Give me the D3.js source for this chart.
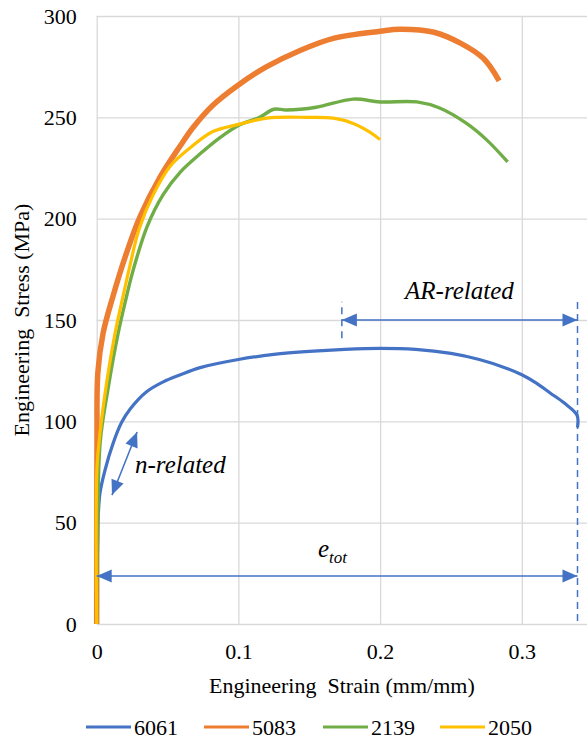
<!DOCTYPE html>
<html>
<head>
<meta charset="utf-8">
<script src="https://cdn.jsdelivr.net/npm/d3@7"></script>
<style>
  body { margin: 0; background: #fff; }
  svg { display: block; }
  text { fill: #000; }
  .tick text { font-size: 22px; }
</style>
</head>
<body>
<svg id="chart" width="587" height="740" font-family="Liberation Serif, DejaVu Serif, Times New Roman, serif"></svg>
<script>
// series: [strain, stress]
const s6061 = [
  [0, 0], [0.0003, 25], [0.0008, 45], [0.0011, 53], [0.0023, 64.5], [0.0059, 76], [0.0115, 89],
  [0.0176, 99.5], [0.0235, 106], [0.035, 114.5], [0.047, 119.5], [0.059, 123], [0.073, 126.5],
  [0.1, 130.5], [0.125, 133], [0.15, 134.5], [0.175, 135.5], [0.2, 136], [0.225, 135.5],
  [0.25, 133.5], [0.27, 130.5], [0.29, 126], [0.3, 123], [0.31, 119], [0.32, 114],
  [0.33, 109], [0.339, 103], [0.3393, 97]
];
const s5083 = [
  [0, 0], [0.0002, 90], [0.0008, 124], [0.0045, 143.5], [0.0116, 162], [0.021, 183],
  [0.0306, 201], [0.0447, 220.5], [0.059, 236], [0.068, 245], [0.082, 256], [0.1, 266],
  [0.12, 275], [0.1435, 283], [0.167, 289], [0.2, 292.5], [0.214, 293.5], [0.238, 292],
  [0.257, 286.5], [0.273, 279], [0.284, 268]
];
const s2139 = [
  [0, 0], [0.0005, 40], [0.0025, 90], [0.008, 116], [0.015, 143], [0.0205, 160],
  [0.0255, 174], [0.0355, 196], [0.047, 212], [0.059, 223], [0.073, 232], [0.087, 240],
  [0.1, 246], [0.115, 250], [0.125, 254], [0.134, 253.6], [0.155, 255], [0.181, 259],
  [0.2, 257.6], [0.226, 257.6], [0.242, 254.6], [0.261, 247], [0.275, 239], [0.29, 228]
];
const s2050 = [
  [0, 0], [0.0002, 77], [0.0023, 94], [0.007, 119], [0.013, 143.6], [0.019, 163],
  [0.0235, 177], [0.03, 195], [0.04, 212], [0.052, 226], [0.066, 235], [0.082, 243],
  [0.1, 246.5], [0.12, 249.6], [0.148, 250], [0.167, 249.6], [0.181, 247], [0.193, 242.6],
  [0.2, 239]
];
const seriesNames = ["6061", "5083", "2139", "2050"];
const seriesColors = ["#4472C4", "#ED7D31", "#70AD47", "#FFC000"];
const xTicks = [0, 0.1, 0.2, 0.3];
const yTicks = [0, 50, 100, 150, 200, 250, 300];

const svg = d3.select("#chart");
const m = { left: 96.7, right: 587, top: 16, bottom: 624 };
const x = d3.scaleLinear().domain([0, 0.346]).range([m.left, m.right]);
const y = d3.scaleLinear().domain([0, 300]).range([m.bottom, m.top]);

// axes + grid
svg.append("g").attr("transform", `translate(${m.left},0)`)
  .call(d3.axisLeft(y).tickValues(yTicks).tickSize(-(m.right - m.left)).tickPadding(20))
  .attr("font-family", null).attr("font-size", null);
svg.append("g").attr("transform", `translate(0,${m.bottom})`)
  .call(d3.axisBottom(x).tickValues(xTicks).tickSize(-(m.bottom - m.top)).tickPadding(19)
    .tickFormat((d) => (d === 0 ? "0" : d3.format(".1f")(d))))
  .attr("font-family", null).attr("font-size", null);
svg.selectAll(".domain").remove();
svg.selectAll(".tick line").attr("stroke", "#d9d9d9").attr("stroke-width", 1.3);

// series
const line = d3.line().x((d) => x(d[0])).y((d) => y(d[1])).curve(d3.curveCatmullRom.alpha(0.5));
const allSeries = [s6061, s5083, s2139, s2050];
const widths = [3.2, 5.5, 3.4, 3.2];
svg.append("g").selectAll("path").data(allSeries).join("path")
  .attr("d", line)
  .attr("fill", "none")
  .attr("stroke", (d, i) => seriesColors[i])
  .attr("stroke-width", (d, i) => widths[i])
  .attr("stroke-linejoin", "round");

// annotations
const blue = "#4472C4";
const ann = svg.append("g");
function arrow(x1, y1, x2, y2) {
  ann.append("line").attr("x1", x1).attr("y1", y1).attr("x2", x2).attr("y2", y2)
    .attr("stroke", blue).attr("stroke-width", 1.5);
  for (const [tx, ty, fx, fy] of [[x1, y1, x2, y2], [x2, y2, x1, y1]]) {
    const a = Math.atan2(ty - fy, tx - fx), len = 15, hw = 6.5;
    const bx = tx - len * Math.cos(a), by = ty - len * Math.sin(a);
    ann.append("path")
      .attr("d", `M${tx},${ty}L${bx + hw * Math.sin(a)},${by - hw * Math.cos(a)}L${bx - hw * Math.sin(a)},${by + hw * Math.cos(a)}Z`)
      .attr("fill", blue);
  }
}
function dashed(sx, s0, s1) {
  ann.append("line").attr("x1", x(sx)).attr("x2", x(sx)).attr("y1", y(s0)).attr("y2", y(s1))
    .attr("stroke", blue).attr("stroke-width", 1.5).attr("stroke-dasharray", "7,5");
}
dashed(0.3393, 1.5, 159);
dashed(0.173, 141, 159);
arrow(x(0.173), y(150), x(0.3393), y(150));
arrow(x(0), y(23.7), x(0.3393), y(23.7));
arrow(x(0.0285), y(94.7), x(0.0108), y(63.6));

ann.append("text").attr("x", x(0.256)).attr("y", y(160.4)).attr("text-anchor", "middle")
  .attr("font-style", "italic").attr("font-size", 25).text("AR-related");
ann.append("text").attr("x", 135).attr("y", 473)
  .attr("font-style", "italic").attr("font-size", 25).text("n-related");
const et = ann.append("text").attr("x", 318).attr("y", 557).attr("font-style", "italic").attr("font-size", 25);
et.append("tspan").text("e");
et.append("tspan").attr("font-size", 17).attr("dy", 6).text("tot");

// titles
svg.append("text").attr("x", (m.left + m.right) / 2).attr("y", 693).attr("text-anchor", "middle")
  .attr("font-size", 22).style("white-space", "pre").text("Engineering  Strain (mm/mm)");
svg.append("text").attr("transform", `translate(29,${(m.top + m.bottom) / 2}) rotate(-90)`)
  .attr("text-anchor", "middle").attr("font-size", 22).style("white-space", "pre")
  .text("Engineering  Stress (MPa)");

// legend
const legendX = [86, 204, 323, 440];
const lg = svg.append("g").selectAll("g").data(seriesNames).join("g")
  .attr("transform", (d, i) => `translate(${legendX[i]},727)`);
lg.append("line").attr("x1", 0).attr("x2", 45).attr("stroke", (d, i) => seriesColors[i]).attr("stroke-width", 3.2);
lg.append("text").attr("x", 48).attr("y", 8).attr("font-size", 22).text((d) => d);
</script>
</body>
</html>
